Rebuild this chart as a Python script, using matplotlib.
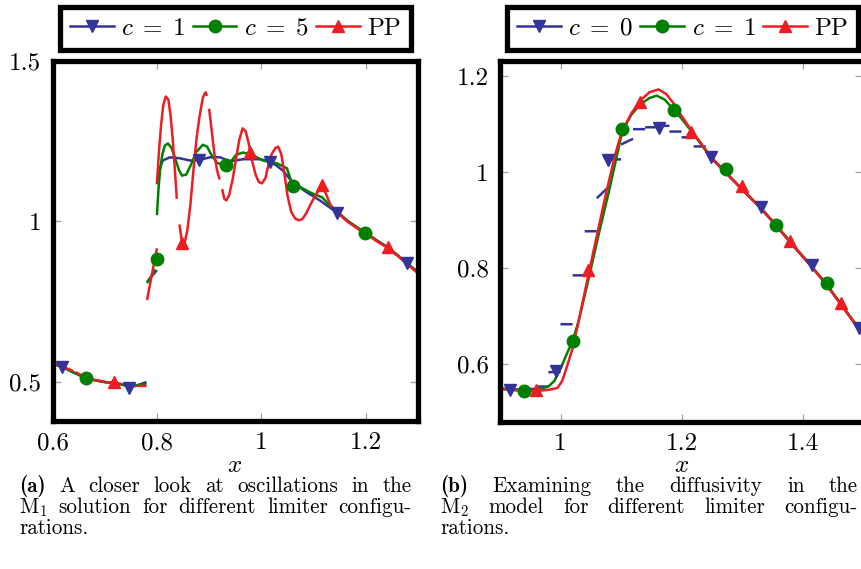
import numpy as np
import matplotlib
matplotlib.use("Agg")
import matplotlib.pyplot as plt
from matplotlib.lines import Line2D

plt.rcParams['mathtext.fontset'] = 'cm'
plt.rcParams['font.family'] = 'serif'
plt.rcParams['font.serif'] = ['cmr10']
plt.rcParams['axes.formatter.use_mathtext'] = True

nan = np.nan
BLUE = '#33339a'
GREEN = '#008000'
RED = '#ee1d23'

# ---------------- panel (a): M1, limiter c=1, c=5, PP ----------------
a_blue_x = [0.600, 0.620, 0.640, 0.660, 0.680, 0.700, 0.720, 0.740, 0.760, 0.780, nan,
            0.781, 0.800, nan,
            0.800, 0.806, 0.811, 0.825, 0.844, 0.863, 0.880, 0.901, 0.921, 0.940, 0.965,
            0.997, 1.016, 1.030, 1.041, 1.060, 1.087, 1.112, 1.131, 1.147, 1.164, 1.189,
            1.198, 1.220, 1.242, 1.260, 1.278, 1.300]
a_blue_y = [0.558, 0.547, 0.530, 0.516, 0.506, 0.500, 0.497, 0.490, 0.489, 0.500, nan,
            0.811, 0.848, nan,
            1.115, 1.165, 1.189, 1.199, 1.196, 1.189, 1.190, 1.199, 1.199, 1.186, 1.193,
            1.193, 1.187, 1.172, 1.158, 1.121, 1.090, 1.065, 1.043, 1.025, 1.002, 0.974,
            0.966, 0.942, 0.919, 0.895, 0.870, 0.842]

a_green_x = [0.600, 0.620, 0.640, 0.660, 0.680, 0.700, 0.720, 0.740, 0.760, 0.780, nan,
             0.781, 0.797, nan,
             0.800, 0.803, 0.806, 0.810, 0.815, 0.821, 0.828, 0.835, 0.842, 0.848, 0.856,
             0.865, 0.875, 0.888, 0.896, 0.905, 0.915, 0.930, 0.940, 0.952, 0.965, 0.984,
             1.003, 1.030, 1.049, 1.058, 1.078, 1.097, 1.116, 1.131, 1.147, 1.164, 1.180,
             1.198, 1.220, 1.242, 1.260, 1.278, 1.300]
a_green_y = [0.557, 0.546, 0.530, 0.515, 0.506, 0.500, 0.496, 0.490, 0.489, 0.494, nan,
             0.808, 0.850, nan,
             1.019, 1.100, 1.160, 1.205, 1.235, 1.242, 1.228, 1.195, 1.160, 1.142, 1.145,
             1.175, 1.215, 1.238, 1.232, 1.205, 1.182, 1.174, 1.183, 1.207, 1.214, 1.205,
             1.189, 1.180, 1.165, 1.121, 1.103, 1.087, 1.075, 1.050, 1.028, 1.003, 0.985,
             0.966, 0.941, 0.919, 0.896, 0.870, 0.842]

a_red_x = [0.600, 0.620, 0.640, nan, 0.644, 0.660, 0.680, 0.700, nan, 0.703, 0.720, 0.733, nan,
           0.736, 0.760, nan, 0.763, 0.780, nan,
           0.781, 0.800, nan,
           0.800, 0.804, 0.808, 0.812, 0.817, 0.822, 0.826, 0.830, 0.834, 0.838, nan,
           0.843, 0.848, 0.853, 0.858, 0.864, 0.870, 0.876, 0.882, 0.888, 0.893, 0.896, nan,
           0.900, 0.905, 0.910, 0.915, 0.920, nan,
           0.925, 0.929, 0.933, 0.938, 0.945, 0.952, 0.958, 0.964, 0.970, 0.976, 0.982,
           0.989, 0.995, 1.001, 1.008, 1.014, 1.020, 1.027, 1.032, 1.038, 1.044, 1.050,
           1.057, 1.065, 1.072, 1.078, 1.086, 1.095, 1.105, 1.116, 1.124, 1.132, 1.140,
           1.147, 1.164, 1.180, 1.189, 1.198, 1.220, 1.242, 1.260, 1.278, 1.300]
a_red_y = [0.559, 0.548, 0.534, nan, 0.531, 0.517, 0.507, 0.501, nan, 0.500, 0.497, 0.494, nan,
           0.491, 0.487, nan, 0.488, 0.488, nan,
           0.755, 0.916, nan,
           1.118, 1.220, 1.300, 1.360, 1.388, 1.378, 1.330, 1.260, 1.170, 1.070, nan,
           0.990, 0.935, 0.932, 0.970, 1.050, 1.160, 1.260, 1.330, 1.385, 1.401, 1.390, nan,
           1.350, 1.280, 1.210, 1.160, 1.130, nan,
           1.100, 1.070, 1.065, 1.080, 1.130, 1.200, 1.255, 1.289, 1.280, 1.240, 1.190,
           1.145, 1.122, 1.118, 1.135, 1.180, 1.210, 1.228, 1.232, 1.210, 1.150, 1.080,
           1.030, 1.008, 1.003, 1.006, 1.025, 1.055, 1.085, 1.108, 1.085, 1.052, 1.035,
           1.026, 1.000, 0.982, 0.972, 0.964, 0.939, 0.917, 0.894, 0.869, 0.838]

a_blue_mx = [0.618, 0.747, 0.880, 1.016, 1.145, 1.278]
a_blue_my = [0.548, 0.482, 1.190, 1.185, 1.025, 0.869]
a_green_mx = [0.664, 0.800, 0.932, 1.060, 1.198]
a_green_my = [0.513, 0.882, 1.174, 1.111, 0.965]
a_red_mx = [0.718, 0.848, 0.978, 1.116, 1.242]
a_red_my = [0.499, 0.932, 1.215, 1.112, 0.919]

# ---------------- panel (b): M2, limiter c=0, c=1, PP ----------------
b_blue_x = [0.90, 0.92, nan, 0.92, 0.94, nan, 0.94, 0.96, nan, 0.96, 0.98, nan,
            0.98, 1.00, nan, 1.00, 1.02, nan, 1.02, 1.04, nan, 1.04, 1.06, nan,
            1.06, 1.08, nan, 1.08, 1.10, nan, 1.10, 1.12, nan, 1.12, 1.14, nan,
            1.14, 1.16, nan, 1.16, 1.18, nan, 1.18, 1.20, nan, 1.20, 1.22, nan,
            1.22, 1.24, nan,
            1.240, 1.248, 1.273, 1.300, 1.331, 1.357, 1.380, 1.415, 1.440, 1.463, 1.494, 1.510]
b_blue_y = [0.548, 0.548, nan, 0.547, 0.547, nan, 0.548, 0.548, nan, 0.553, 0.553, nan,
            0.583, 0.583, nan, 0.683, 0.683, nan, 0.785, 0.785, nan, 0.877, 0.877, nan,
            0.946, 0.970, nan, 1.027, 1.027, nan, 1.058, 1.070, nan, 1.090, 1.090, nan,
            1.094, 1.094, nan, 1.097, 1.097, nan, 1.085, 1.085, nan, 1.073, 1.073, nan,
            1.054, 1.054, nan,
            1.045, 1.031, 0.999, 0.965, 0.925, 0.888, 0.853, 0.803, 0.765, 0.725, 0.672, 0.645]

b_green_x = [0.90, 0.92, 0.94, 0.96, 0.98, 0.99, 1.000, 1.010, 1.020, 1.030, 1.046, 1.063,
             1.080, 1.095, 1.102, 1.117, 1.132, 1.147, 1.159, 1.172, 1.188, 1.200, 1.215,
             1.228, 1.248, 1.273, 1.300, 1.331, 1.357, 1.380, 1.415, 1.440, 1.463, 1.494, 1.510]
b_green_y = [0.548, 0.546, 0.543, 0.546, 0.553, 0.565, 0.590, 0.620, 0.648, 0.690, 0.775, 0.870,
             0.960, 1.045, 1.085, 1.120, 1.142, 1.155, 1.160, 1.152, 1.130, 1.112, 1.088,
             1.066, 1.032, 1.000, 0.965, 0.926, 0.889, 0.855, 0.804, 0.766, 0.726, 0.673, 0.646]

b_red_x = [0.90, 0.92, 0.94, 0.96, 0.98, 0.995, 1.003, 1.012, 1.021, 1.030, 1.046, 1.063,
           1.076, 1.091, 1.101, 1.117, 1.132, 1.147, 1.162, 1.175, 1.188, 1.200, 1.215,
           1.228, 1.248, 1.273, 1.300, 1.331, 1.357, 1.380, 1.415, 1.440, 1.463, 1.494, 1.510]
b_red_y = [0.549, 0.547, 0.545, 0.544, 0.546, 0.550, 0.565, 0.600, 0.637, 0.690, 0.785, 0.885,
           0.960, 1.040, 1.083, 1.123, 1.150, 1.167, 1.173, 1.163, 1.142, 1.118, 1.090,
           1.068, 1.033, 1.000, 0.964, 0.925, 0.888, 0.854, 0.803, 0.765, 0.725, 0.671, 0.643]

b_blue_mx = [0.916, 0.992, 1.079, 1.162, 1.248, 1.331, 1.415, 1.494]
b_blue_my = [0.546, 0.585, 1.025, 1.092, 1.031, 0.928, 0.806, 0.675]
b_green_mx = [0.940, 1.020, 1.102, 1.188, 1.273, 1.357, 1.440]
b_green_my = [0.543, 0.648, 1.090, 1.129, 1.006, 0.891, 0.768]
b_red_mx = [0.960, 1.046, 1.132, 1.215, 1.300, 1.380, 1.463]
b_red_my = [0.545, 0.796, 1.146, 1.085, 0.972, 0.857, 0.728]

a_labels = [r'$c\;=\;1$', r'$c\;=\;5$', 'PP']
b_labels = [r'$c\;=\;0$', r'$c\;=\;1$', 'PP']
a_xticks = [0.6, 0.8, 1.0, 1.2]
a_xticklabels = ['0.6', '0.8', '1', '1.2']
a_yticks = [0.5, 1.0, 1.5]
a_yticklabels = ['0.5', '1', '1.5']
b_xticks = [1.0, 1.2, 1.4]
b_xticklabels = ['1', '1.2', '1.4']
b_yticks = [0.6, 0.8, 1.0, 1.2]
b_yticklabels = ['0.6', '0.8', '1', '1.2']

cap_a = [[r'(a)', 'A', 'closer', 'look', 'at', 'oscillations', 'in', 'the'],
         [r'$\mathrm{M}_1$', 'solution', 'for', 'different', 'limiter', 'configu-'],
         ['rations.']]
cap_b = [[r'(b)', 'Examining', 'the', 'diffusivity', 'in', 'the'],
         [r'$\mathrm{M}_2$', 'model', 'for', 'different', 'limiter', 'configu-'],
         ['rations.']]

W, H = 861, 569
fig = plt.figure(figsize=(W / 100, H / 100), dpi=100)

LW = 1.8
MS = 9
FS = 18


def px_rect(x0, y0, x1, y1):
    return [x0 / W, 1 - y1 / H, (x1 - x0) / W, (y1 - y0) / H]


def style_axes(ax, xlim, ylim, xt, xtl, yt, ytl):
    ax.set_xlim(*xlim)
    ax.set_ylim(*ylim)
    ax.set_xticks(xt)
    ax.set_xticklabels(xtl)
    ax.set_yticks(yt)
    ax.set_yticklabels(ytl)
    ax.tick_params(direction='in', length=6, width=0.9, color='#a0a0a0',
                   top=True, right=True, labelsize=FS, pad=8)
    for s in ax.spines.values():
        s.set_linewidth(3.8)
        s.set_color('black')
        s.set_capstyle('projecting')


def draw(ax, series, markers_list):
    for (x, y, c), (mx, my, m) in zip(series, markers_list):
        ax.plot(x, y, color=c, lw=LW, solid_capstyle='butt', zorder=2)
        ax.plot(mx, my, ls='none', marker=m, color=c, ms=MS, zorder=3)


axA = fig.add_axes(px_rect(52.5, 60.5, 418, 421))
draw(axA,
     [(a_blue_x, a_blue_y, BLUE), (a_green_x, a_green_y, GREEN), (a_red_x, a_red_y, RED)],
     [(a_blue_mx, a_blue_my, 'v'), (a_green_mx, a_green_my, 'o'), (a_red_mx, a_red_my, '^')])
style_axes(axA, (0.6, 1.3), (0.379, 1.5), a_xticks, a_xticklabels, a_yticks, a_yticklabels)

axB = fig.add_axes(px_rect(500, 60.5, 863, 422))
draw(axB,
     [(b_blue_x, b_blue_y, BLUE), (b_green_x, b_green_y, GREEN), (b_red_x, b_red_y, RED)],
     [(b_blue_mx, b_blue_my, 'v'), (b_green_mx, b_green_my, 'o'), (b_red_mx, b_red_my, '^')])
style_axes(axB, (0.9, 1.5), (0.479, 1.2333), b_xticks, b_xticklabels, b_yticks, b_yticklabels)


def make_legend(labels, cx, cy):
    handles = [Line2D([], [], color=BLUE, lw=LW, marker='v', ms=MS),
               Line2D([], [], color=GREEN, lw=LW, marker='o', ms=MS),
               Line2D([], [], color=RED, lw=LW, marker='^', ms=MS)]
    leg = fig.legend(handles, labels, loc='center', bbox_to_anchor=(cx / W, 1 - cy / H),
                     ncol=3, fontsize=FS, frameon=True, fancybox=False, framealpha=1,
                     edgecolor='black', handlelength=1.75, handletextpad=0.3,
                     columnspacing=0.3, borderpad=0.4, borderaxespad=0)
    leg.get_frame().set_linewidth(3.8)
    return leg


make_legend(a_labels, 235.5, 28.5)
make_legend(b_labels, 682.5, 28.5)

fig.text(235 / W, 1 - 472 / H, '$x$', fontsize=FS, ha='center', va='baseline')
fig.text(682 / W, 1 - 472 / H, '$x$', fontsize=FS, ha='center', va='baseline')

CFS = 15.2
renderer = fig.canvas.get_renderer()


def caption(lines, x0, x1, ys):
    for li, (words, y) in enumerate(zip(lines, ys)):
        texts = []
        for wi, w in enumerate(words):
            fam = 'cmb10' if (li == 0 and wi == 0) else 'cmr10'
            t = fig.text(0, 0, w, fontsize=CFS, family=fam, va='baseline', ha='left')
            texts.append(t)
        widths = [t.get_window_extent(renderer).width for t in texts]
        if li < len(lines) - 1 and len(words) > 1:
            gap = (x1 - x0 - sum(widths)) / (len(words) - 1)
        else:
            gap = 0.3 * CFS * 100 / 72
        x = x0
        for t, w in zip(texts, widths):
            t.set_position((x / W, 1 - y / H))
            x += w + gap


caption(cap_a, 19, 412, [492, 513, 534])
caption(cap_b, 440, 858, [492, 513, 534])

fig.savefig('out.png', dpi=100)
